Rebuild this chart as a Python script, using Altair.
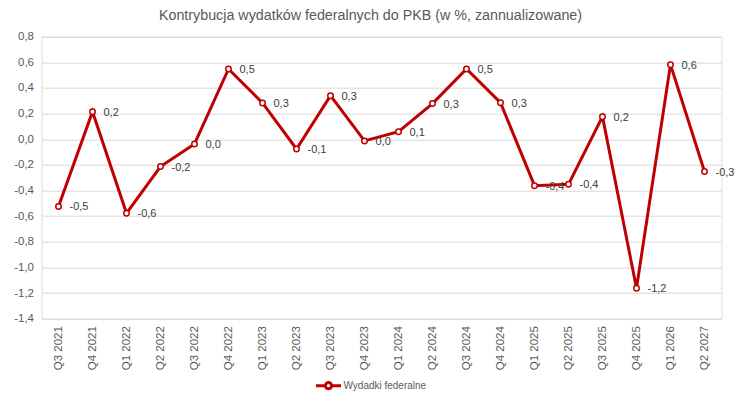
import altair as alt
import pandas as pd

categories = ["Q3 2021", "Q4 2021", "Q1 2022", "Q2 2022", "Q3 2022", "Q4 2022",
              "Q1 2023", "Q2 2023", "Q3 2023", "Q4 2023", "Q1 2024", "Q2 2024",
              "Q3 2024", "Q4 2024", "Q1 2025", "Q2 2025", "Q3 2025", "Q4 2025",
              "Q1 2026", "Q2 2027"]
values = [-0.524, 0.215, -0.577, -0.213, -0.037, 0.548, 0.283, -0.076, 0.34, -0.013,
          0.059, 0.278, 0.548, 0.285, -0.362, -0.352, 0.176, -1.162, 0.582, -0.252]
series_name = "Wydadki federalne"
y_ticks = [-1.4, -1.2, -1.0, -0.8, -0.6, -0.4, -0.2, 0.0, 0.2, 0.4, 0.6, 0.8]


def fmt(v):
    r = round(v, 1)
    if r == 0:
        r = 0.0
    return f"{r:.1f}".replace(".", ",")


df = pd.DataFrame({
    "kw": categories,
    "v": values,
    "lab": [fmt(v) for v in values],
    "series": [series_name] * len(values),
})

FONT = "Liberation Sans"
RED = "#C00000"

x = alt.X("kw:N", sort=categories, bandPosition=0.5,
          scale=alt.Scale(type="band", paddingInner=0, paddingOuter=0),
          axis=alt.Axis(title=None, labelAngle=-90, tickBand="extent", ticks=False,
                        domain=False, labelPadding=7, labelFontSize=11.5,
                        labelColor="#595959", labelFont=FONT, gridColor="#d9d9d9"))
y = alt.Y("v:Q", scale=alt.Scale(domain=[-1.4, 0.8], nice=False, zero=False),
          axis=alt.Axis(title=None, values=y_ticks, ticks=False, domain=False,
                        labelPadding=8, labelFontSize=11.5, labelColor="#595959",
                        labelFont=FONT, gridColor="#d9d9d9",
                        labelExpr="(datum.value < -0.001 ? '-' : '') + replace(format(abs(datum.value), '.1f'), '.', ',')"))

base = alt.Chart(df)

line = base.mark_line(strokeWidth=3, color=RED).encode(
    x=x, y=y,
    color=alt.Color("series:N", scale=alt.Scale(range=[RED]),
                    legend=alt.Legend(title=None, orient="none", legendX=273, legendY=335,
                                      symbolType="M-1,0L-0.25,0M0.25,0L1,0M-0.25,0A0.25,0.25 0 1,0 0.25,0A0.25,0.25 0 1,0 -0.25,0",
                                      symbolSize=625, symbolStrokeWidth=3,
                                      symbolFillColor="white", symbolStrokeColor=RED,
                                      labelFontSize=10, labelColor="#595959", labelFont=FONT,
                                      labelOffset=1)),
)
pts = base.mark_point(shape="circle", filled=True, fill="white", stroke=RED,
                      strokeWidth=1.5, size=30, opacity=1).encode(x=x, y=y)
txt = base.mark_text(align="left", baseline="middle", dx=11, dy=1, fontSize=11,
                     color="#404040", font=FONT).encode(x=x, y=y, text="lab:N")

chart = alt.layer(line, pts, txt).properties(
    width=680, height=282,
    padding={"left": 33.5, "top": 28.7, "right": 16.5, "bottom": 74},
    autosize=alt.AutoSizeParams(type="none"),
    title=alt.TitleParams("Kontrybucja wydatków federalnych do PKB (w %, zannualizowane)",
                          fontSize=14.3, color="#595959", font=FONT, fontWeight="normal",
                          anchor="middle", dx=-11, offset=7),
).configure_view(stroke="#d9d9d9").configure(background="white")

chart.save("out.html", embed_options={"renderer": "svg", "actions": False})
